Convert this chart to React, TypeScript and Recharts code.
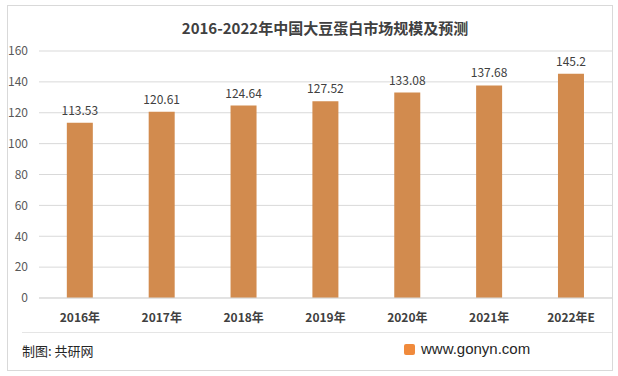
import { Bar, BarChart, CartesianGrid, LabelList, XAxis, YAxis } from "recharts";

const years = ["2016年", "2017年", "2018年", "2019年", "2020年", "2021年", "2022年E"];
const marketSize = [113.53, 120.61, 124.64, 127.52, 133.08, 137.68, 145.2];
const yTicks = [0, 20, 40, 60, 80, 100, 120, 140, 160];

const data = years.map((year, i) => ({ year, value: marketSize[i] }));

const font = '"Noto Sans CJK SC", "Noto Sans", sans-serif';

export default function App() {
  return (
    <div
      style={{
        position: "absolute",
        left: 0,
        top: 0,
        width: 618,
        height: 376,
        background: "#fff",
        fontFamily: font,
      }}
    >
      <div
        style={{
          position: "absolute",
          left: 7,
          top: 5,
          width: 604,
          height: 364,
          border: "1px solid #d9d9d9",
        }}
      />
      <div
        style={{
          position: "absolute",
          left: 0,
          width: 650,
          top: 17,
          textAlign: "center",
          fontSize: 15,
          fontWeight: 700,
          color: "#404040",
        }}
      >
        2016-2022年中国大豆蛋白市场规模及预测
      </div>
      <div style={{ position: "absolute", left: 0, top: 0 }}>
        <BarChart
          width={618}
          height={340}
          data={data}
          margin={{ top: 51, right: 6, bottom: 12, left: 0 }}
          barCategoryGap="34%"
        >
          <CartesianGrid vertical={false} stroke="#d9d9d9" />
          <XAxis
            dataKey="year"
            height={30}
            axisLine={{ stroke: "#d9d9d9" }}
            tickLine={false}
            tickMargin={9}
            tick={{ fontSize: 12, fill: "#404040", fontFamily: font, fontWeight: 700 }}
          />
          <YAxis
            width={39}
            domain={[0, 160]}
            ticks={yTicks}
            axisLine={false}
            tickLine={false}
            tickSize={0}
            tickMargin={11}
            tick={{ fontSize: 12, fill: "#595959", fontFamily: font }}
          />
          <Bar dataKey="value" fill="#D28B4E" isAnimationActive={false}>
            <LabelList
              dataKey="value"
              position="top"
              offset={8}
              style={{ fontSize: 12, fill: "#404040", fontFamily: font }}
            />
          </Bar>
        </BarChart>
      </div>
      <div
        style={{
          position: "absolute",
          left: 22,
          top: 332,
          width: 590,
          borderTop: "1px solid #e5e5e5",
        }}
      />
      <div
        style={{
          position: "absolute",
          left: 22,
          top: 341,
          fontSize: 13,
          color: "#262626",
        }}
      >
        制图: 共研网
      </div>
      <div
        style={{
          position: "absolute",
          left: 404,
          top: 344,
          width: 11,
          height: 11,
          background: "#f08a3c",
          borderRadius: 2,
        }}
      />
      <div
        style={{
          position: "absolute",
          left: 421,
          top: 340,
          fontSize: 15,
          color: "#262626",
          fontFamily: '"Liberation Sans", sans-serif',
        }}
      >
        www.gonyn.com
      </div>
    </div>
  );
}
